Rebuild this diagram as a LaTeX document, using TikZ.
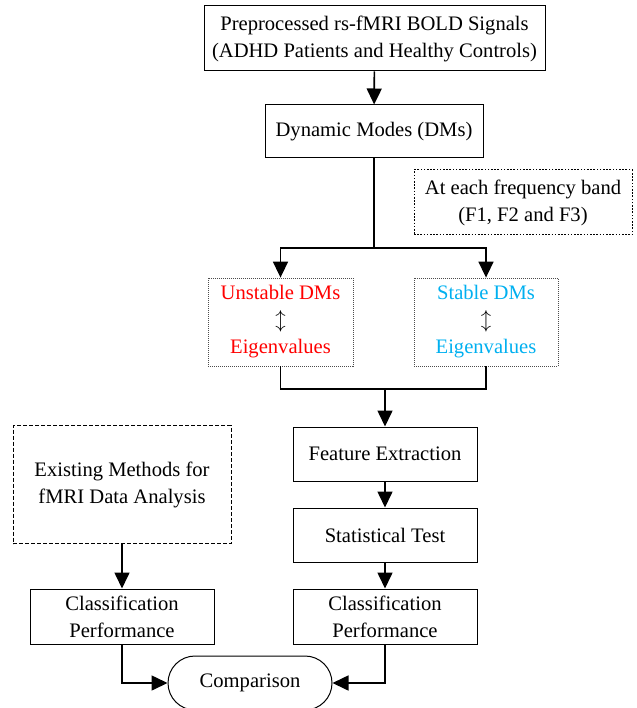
\documentclass[tikz,border=0pt]{standalone}
\usepackage{fontspec}
\setmainfont{Liberation Serif}
\usetikzlibrary{arrows.meta,shapes.misc}
\definecolor{unstablered}{RGB}{255,0,0}
\definecolor{stableblue}{RGB}{0,176,240}
\def\straightFlow{signals/dms, merge/feature, feature/stat, stat/classr, existing/classl}
\tikzstyle{block}=[draw, line width=1pt, align=center, inner sep=0pt, font=\fontsize{20.6}{27}\selectfont]
\tikzstyle{band note}=[block, dash pattern=on 1.6pt off 1.6pt]
\tikzstyle{mode box}=[block, draw=black!70, line width=0.8pt, dash pattern=on 1pt off 1pt]
\tikzstyle{other box}=[block, dash pattern=on 4pt off 2pt]
\tikzstyle{flow}=[draw, line width=1.6pt, -{Triangle[length=16pt,width=15pt]}]
\tikzstyle{edge}=[draw, line width=1.6pt, -]

\begin{document}
\begin{tikzpicture}[x=1pt, y=-1pt]
  \useasboundingbox (0,0) rectangle (636,708);

  % The main column
  \node[block, minimum width=341pt, minimum height=65pt] (signals) at (374.5,38.5)
    {Preprocessed rs-fMRI BOLD Signals\\(ADHD Patients and Healthy Controls)};
  \node[block, minimum width=218pt, minimum height=53pt] (dms) at (374,131.5) {Dynamic Modes (DMs)};
  \node[band note, minimum width=218pt, minimum height=65pt] (band) at (523,202.5)
    {At each frequency band\\(F1, F2 and F3)};

  % The two kinds of modes
  \node[mode box, minimum width=145pt, minimum height=88pt] (unstable) at (280.5,322)
    {\color{unstablered}Unstable DMs\\$\updownarrow$\\\color{unstablered}Eigenvalues};
  \node[mode box, minimum width=144pt, minimum height=88pt] (stable) at (486,322)
    {\color{stableblue}Stable DMs\\$\updownarrow$\\\color{stableblue}Eigenvalues};

  \coordinate (split) at (374,248);
  \coordinate (merge) at (385,389);

  \node[block, minimum width=184pt, minimum height=54pt] (feature) at (385,454) {Feature Extraction};
  \node[block, minimum width=184pt, minimum height=54pt] (stat) at (385,535) {Statistical Test};
  \node[block, minimum width=184pt, minimum height=55pt] (classr) at (385,616.5) {Classification\\Performance};

  % The other methods
  \node[other box, minimum width=218pt, minimum height=118pt] (existing) at (122,484.5)
    {Existing Methods for\\fMRI Data Analysis};
  \node[block, minimum width=184pt, minimum height=55pt] (classl) at (122,616.5) {Classification\\Performance};

  \node[block, rounded rectangle, minimum width=164pt, minimum height=54pt] (comparison) at (250,683) {Comparison};

  % Connections
  \path[edge] (dms.south) -- (split);
  \path[flow] (split) -| (unstable.north);
  \path[flow] (split) -| (stable.north);
  \path[edge] (unstable.south) |- (merge);
  \path[edge] (stable.south) |- (merge);

  \foreach \source/\dest in \straightFlow {
    \path[flow] (\source) -- (\dest);
    }

  \path[flow] (classl.south) |- (comparison.west);
  \path[flow] (classr.south) |- (comparison.east);
\end{tikzpicture}
\end{document}
